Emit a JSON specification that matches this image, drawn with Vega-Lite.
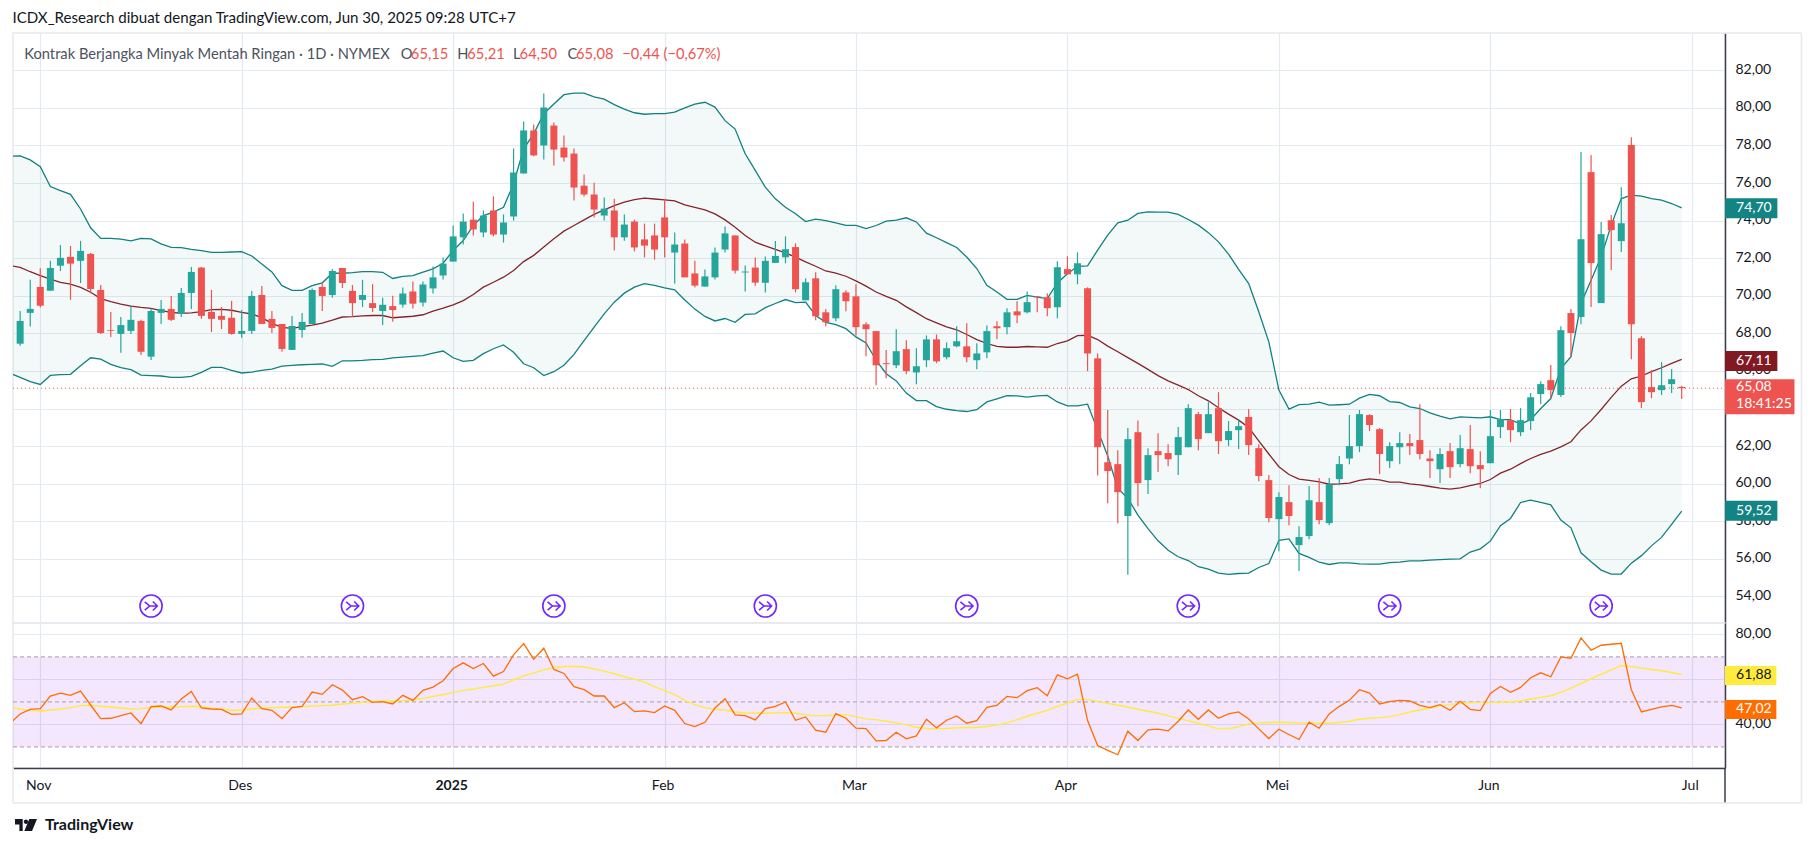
{
"$schema":"https://vega.github.io/schema/vega-lite/v6.json",
"background":"white",
"padding":{"left":11,"top":11,"right":90,"bottom":90},
"spacing":0,
"bounds":"flush",
"title":{"text":"ICDX_Research dibuat dengan TradingView.com, Jun 30, 2025 09:28 UTC+7","anchor":"start","font":"Lato","fontSize":15.1,"fontWeight":"normal","color":"#131722","offset":5,"dx":1},
"config":{"font":"Lato","view":{"stroke":"#e6e9ee","strokeWidth":1.5},"axis":{"labelFont":"Lato","labelFontSize":14,"labelColor":"#131722","gridColor":"#e3eaf0","gridWidth":1.2,"domainColor":"#3a3e48","domainWidth":1.5,"ticks":false}},
"datasets":{
"bars":[
{"bar":-3,"upper":77.43,"basis":71.6,"lower":65.87,"rsi":40.47,"rsima":47.99},
{"bar":-2,"open":67.45,"high":69.19,"low":67.34,"close":68.66,"upper":77.44,"basis":71.51,"lower":65.66,"rsi":44.6,"rsima":46.67},
{"bar":-1,"open":69.09,"high":70.85,"low":68.36,"close":69.3,"upper":77.23,"basis":71.28,"lower":65.43,"rsi":46.67,"rsima":46.08},
{"bar":0,"open":70.47,"high":71.46,"low":69.37,"close":69.47,"upper":76.87,"basis":71.07,"lower":65.28,"rsi":46.96,"rsima":45.93},
{"bar":1,"open":70.27,"high":71.86,"low":70.27,"close":71.48,"upper":75.81,"basis":70.89,"lower":65.76,"rsi":52.57,"rsima":46.37},
{"bar":2,"open":71.6,"high":72.7,"low":71.32,"close":72.02,"upper":75.6,"basis":70.71,"lower":65.8,"rsi":53.89,"rsima":46.81},
{"bar":3,"open":72.07,"high":72.65,"low":69.78,"close":71.71,"upper":75.4,"basis":70.62,"lower":65.82,"rsi":52.86,"rsima":47.4},
{"bar":4,"open":71.86,"high":72.92,"low":70.68,"close":72.39,"upper":74.62,"basis":70.45,"lower":66.28,"rsi":54.78,"rsima":48.29},
{"bar":5,"open":72.23,"high":72.28,"low":70.13,"close":70.36,"upper":73.62,"basis":70.19,"lower":66.7,"rsi":48.58,"rsima":48.44},
{"bar":6,"open":70.31,"high":70.57,"low":67.97,"close":68.02,"upper":73.05,"basis":69.85,"lower":66.63,"rsi":42.54,"rsima":47.99},
{"bar":7,"open":68.17,"high":69.14,"low":67.81,"close":68.13,"upper":73.05,"basis":69.69,"lower":66.35,"rsi":42.68,"rsima":47.7},
{"bar":8,"open":67.97,"high":68.87,"low":66.97,"close":68.44,"upper":73.01,"basis":69.56,"lower":66.17,"rsi":43.86,"rsima":47.26},
{"bar":9,"open":68.13,"high":69.4,"low":67.97,"close":68.72,"upper":72.92,"basis":69.45,"lower":66.07,"rsi":45.05,"rsima":46.81},
{"bar":10,"open":68.66,"high":68.72,"low":66.85,"close":67.02,"upper":73.05,"basis":69.38,"lower":65.78,"rsi":40.33,"rsima":46.96},
{"bar":11,"open":66.76,"high":69.33,"low":66.58,"close":69.19,"upper":73.03,"basis":69.33,"lower":65.75,"rsi":47.85,"rsima":47.4},
{"bar":12,"open":69.09,"high":69.78,"low":68.5,"close":69.3,"upper":72.76,"basis":69.21,"lower":65.73,"rsi":48.14,"rsima":47.7},
{"bar":13,"open":69.3,"high":69.99,"low":68.66,"close":68.72,"upper":72.58,"basis":69.12,"lower":65.66,"rsi":46.37,"rsima":47.7},
{"bar":14,"open":69.03,"high":70.41,"low":68.87,"close":70.15,"upper":72.56,"basis":69.07,"lower":65.66,"rsi":51.24,"rsima":47.85},
{"bar":15,"open":70.15,"high":71.53,"low":69.3,"close":71.27,"upper":72.47,"basis":69.09,"lower":65.71,"rsi":54.63,"rsima":47.99},
{"bar":16,"open":71.5,"high":71.53,"low":68.77,"close":68.93,"upper":72.4,"basis":69.16,"lower":65.92,"rsi":47.26,"rsima":47.85},
{"bar":17,"open":69.14,"high":70.31,"low":68.07,"close":68.77,"upper":72.31,"basis":69.26,"lower":66.19,"rsi":46.81,"rsima":47.11},
{"bar":18,"open":68.93,"high":69.4,"low":68.23,"close":68.72,"upper":72.31,"basis":69.28,"lower":66.19,"rsi":46.67,"rsima":46.67},
{"bar":19,"open":68.83,"high":69.73,"low":67.92,"close":67.97,"upper":72.33,"basis":69.23,"lower":66.03,"rsi":44.45,"rsima":46.22},
{"bar":20,"open":67.97,"high":69.24,"low":67.77,"close":68.13,"upper":72.35,"basis":69.12,"lower":65.89,"rsi":44.6,"rsima":46.22},
{"bar":21,"open":68.13,"high":70.26,"low":67.97,"close":69.99,"upper":72.12,"basis":69.03,"lower":65.94,"rsi":51.68,"rsima":46.81},
{"bar":22,"open":70.04,"high":70.52,"low":68.5,"close":68.5,"upper":71.69,"basis":68.84,"lower":66.03,"rsi":46.96,"rsima":47.26},
{"bar":23,"open":68.77,"high":69.19,"low":68.02,"close":68.29,"upper":71.27,"basis":68.53,"lower":66.1,"rsi":46.22,"rsima":47.4},
{"bar":24,"open":68.5,"high":68.5,"low":67.02,"close":67.17,"upper":70.54,"basis":68.32,"lower":66.26,"rsi":42.54,"rsima":47.55},
{"bar":25,"open":67.12,"high":68.93,"low":67.12,"close":68.39,"upper":70.29,"basis":68.27,"lower":66.3,"rsi":47.4,"rsima":47.55},
{"bar":26,"open":68.18,"high":69.08,"low":67.77,"close":68.61,"upper":70.29,"basis":68.36,"lower":66.33,"rsi":47.99,"rsima":47.85},
{"bar":27,"open":68.5,"high":70.39,"low":68.5,"close":70.31,"upper":70.54,"basis":68.44,"lower":66.35,"rsi":54.34,"rsima":48.14},
{"bar":28,"open":70.47,"high":70.68,"low":69.19,"close":69.99,"upper":70.69,"basis":68.55,"lower":66.37,"rsi":53.3,"rsima":48.29},
{"bar":29,"open":70.04,"high":71.43,"low":69.89,"close":71.32,"upper":71.2,"basis":68.7,"lower":66.24,"rsi":57.58,"rsima":48.44},
{"bar":30,"open":71.48,"high":71.48,"low":70.41,"close":70.68,"upper":71.2,"basis":68.87,"lower":66.54,"rsi":55.22,"rsima":49.03},
{"bar":31,"open":70.26,"high":70.57,"low":68.88,"close":69.61,"upper":71.23,"basis":68.89,"lower":66.54,"rsi":50.94,"rsima":49.32},
{"bar":32,"open":69.78,"high":70.85,"low":69.4,"close":70.04,"upper":71.29,"basis":68.93,"lower":66.56,"rsi":52.27,"rsima":49.76},
{"bar":33,"open":69.61,"high":70.62,"low":69.14,"close":69.35,"upper":71.29,"basis":68.95,"lower":66.6,"rsi":49.76,"rsima":50.21},
{"bar":34,"open":69.19,"high":69.89,"low":68.44,"close":69.52,"upper":71.25,"basis":68.95,"lower":66.62,"rsi":50.06,"rsima":50.35},
{"bar":35,"open":69.45,"high":70.0,"low":68.62,"close":69.24,"upper":70.92,"basis":68.83,"lower":66.7,"rsi":49.03,"rsima":50.35},
{"bar":36,"open":69.53,"high":70.44,"low":69.37,"close":70.12,"upper":71.03,"basis":68.87,"lower":66.74,"rsi":52.86,"rsima":50.5},
{"bar":37,"open":70.23,"high":70.76,"low":69.32,"close":69.58,"upper":71.07,"basis":68.91,"lower":66.77,"rsi":50.65,"rsima":50.8},
{"bar":38,"open":69.64,"high":70.76,"low":69.43,"close":70.6,"upper":71.26,"basis":68.99,"lower":66.81,"rsi":55.07,"rsima":51.53},
{"bar":39,"open":70.39,"high":71.56,"low":70.12,"close":70.98,"upper":71.43,"basis":69.18,"lower":66.95,"rsi":56.55,"rsima":52.42},
{"bar":40,"open":71.08,"high":72.04,"low":70.87,"close":71.71,"upper":71.73,"basis":69.34,"lower":67.06,"rsi":59.35,"rsima":53.16},
{"bar":41,"open":71.82,"high":73.74,"low":71.82,"close":73.16,"upper":72.41,"basis":69.52,"lower":66.7,"rsi":64.81,"rsima":54.19},
{"bar":42,"open":73.11,"high":74.38,"low":72.73,"close":73.95,"upper":72.94,"basis":69.74,"lower":66.51,"rsi":67.32,"rsima":55.07},
{"bar":43,"open":74.05,"high":75.01,"low":73.21,"close":73.53,"upper":73.74,"basis":70.07,"lower":66.56,"rsi":64.81,"rsima":55.66},
{"bar":44,"open":73.37,"high":74.54,"low":73.11,"close":74.27,"upper":74.27,"basis":70.46,"lower":66.92,"rsi":67.02,"rsima":56.4},
{"bar":45,"open":74.54,"high":75.29,"low":73.16,"close":73.26,"upper":74.45,"basis":70.72,"lower":67.18,"rsi":61.42,"rsima":57.14},
{"bar":46,"open":73.26,"high":74.33,"low":72.83,"close":73.9,"upper":74.71,"basis":70.99,"lower":67.38,"rsi":63.48,"rsima":57.88},
{"bar":47,"open":74.22,"high":77.84,"low":74.0,"close":76.56,"upper":75.96,"basis":71.34,"lower":66.99,"rsi":70.86,"rsima":59.79},
{"bar":48,"open":76.51,"high":79.27,"low":76.51,"close":78.8,"upper":77.82,"basis":71.82,"lower":66.38,"rsi":75.87,"rsima":61.56},
{"bar":49,"open":78.8,"high":79.11,"low":77.42,"close":77.47,"upper":78.62,"basis":72.15,"lower":66.17,"rsi":68.94,"rsima":62.89},
{"bar":50,"open":78.0,"high":80.77,"low":77.25,"close":80.02,"upper":79.69,"basis":72.59,"lower":65.75,"rsi":73.81,"rsima":64.22},
{"bar":51,"open":79.06,"high":79.22,"low":76.93,"close":77.78,"upper":80.21,"basis":73.04,"lower":65.96,"rsi":64.37,"rsima":65.25},
{"bar":52,"open":77.89,"high":78.53,"low":77.14,"close":77.36,"upper":80.7,"basis":73.44,"lower":66.3,"rsi":62.6,"rsima":65.69},
{"bar":53,"open":77.57,"high":77.84,"low":75.07,"close":75.76,"upper":80.78,"basis":73.74,"lower":66.88,"rsi":56.7,"rsima":65.69},
{"bar":54,"open":75.86,"high":76.46,"low":75.29,"close":75.39,"upper":80.78,"basis":74.04,"lower":67.61,"rsi":55.37,"rsima":65.55},
{"bar":55,"open":75.39,"high":76.02,"low":74.17,"close":74.59,"upper":80.59,"basis":74.33,"lower":68.33,"rsi":52.57,"rsima":64.66},
{"bar":56,"open":74.27,"high":75.23,"low":74.0,"close":74.64,"upper":80.46,"basis":74.57,"lower":69.04,"rsi":52.57,"rsima":63.63},
{"bar":57,"open":74.54,"high":75.17,"low":72.41,"close":73.11,"upper":80.17,"basis":74.8,"lower":69.66,"rsi":47.4,"rsima":62.45},
{"bar":58,"open":73.11,"high":74.33,"low":72.93,"close":73.79,"upper":79.93,"basis":74.98,"lower":70.14,"rsi":49.62,"rsima":61.12},
{"bar":59,"open":73.95,"high":74.05,"low":72.36,"close":72.57,"upper":79.74,"basis":75.12,"lower":70.46,"rsi":45.63,"rsima":60.09},
{"bar":60,"open":73.0,"high":73.84,"low":72.04,"close":72.67,"upper":79.66,"basis":75.2,"lower":70.65,"rsi":45.93,"rsima":58.76},
{"bar":61,"open":73.21,"high":73.84,"low":71.92,"close":72.46,"upper":79.69,"basis":75.15,"lower":70.55,"rsi":45.19,"rsima":56.7},
{"bar":62,"open":74.17,"high":75.17,"low":72.04,"close":73.11,"upper":79.69,"basis":75.1,"lower":70.42,"rsi":48.14,"rsima":54.93},
{"bar":63,"open":72.3,"high":73.37,"low":70.65,"close":72.73,"upper":79.77,"basis":75.05,"lower":70.32,"rsi":46.22,"rsima":53.16},
{"bar":64,"open":72.78,"high":73.0,"low":70.98,"close":70.98,"upper":80.0,"basis":74.84,"lower":69.78,"rsi":40.33,"rsima":50.65},
{"bar":65,"open":71.19,"high":71.87,"low":70.44,"close":70.54,"upper":80.2,"basis":74.7,"lower":69.29,"rsi":39.0,"rsima":48.73},
{"bar":66,"open":70.49,"high":71.4,"low":70.49,"close":71.03,"upper":80.3,"basis":74.57,"lower":68.9,"rsi":40.91,"rsima":47.4},
{"bar":67,"open":70.98,"high":72.57,"low":70.87,"close":72.3,"upper":80.04,"basis":74.36,"lower":68.66,"rsi":47.26,"rsima":46.67},
{"bar":68,"open":72.46,"high":73.69,"low":72.3,"close":73.32,"upper":79.32,"basis":74.04,"lower":68.79,"rsi":51.39,"rsima":46.22},
{"bar":69,"open":73.21,"high":73.21,"low":71.19,"close":71.34,"upper":78.87,"basis":73.65,"lower":68.59,"rsi":44.16,"rsima":45.49},
{"bar":70,"open":71.24,"high":71.61,"low":70.23,"close":71.29,"upper":77.56,"basis":73.21,"lower":69.01,"rsi":43.86,"rsima":45.05},
{"bar":71,"open":71.5,"high":72.04,"low":70.54,"close":70.7,"upper":76.67,"basis":72.85,"lower":69.04,"rsi":41.95,"rsima":44.9},
{"bar":72,"open":70.69,"high":72.09,"low":70.17,"close":71.86,"upper":75.78,"basis":72.65,"lower":69.37,"rsi":46.96,"rsima":44.9},
{"bar":73,"open":71.75,"high":72.92,"low":71.75,"close":72.12,"upper":75.16,"basis":72.47,"lower":69.59,"rsi":47.99,"rsima":45.05},
{"bar":74,"open":72.05,"high":73.16,"low":71.73,"close":72.48,"upper":74.71,"basis":72.28,"lower":69.8,"rsi":49.91,"rsima":45.19},
{"bar":75,"open":72.59,"high":72.79,"low":70.18,"close":70.35,"upper":74.37,"basis":72.06,"lower":69.64,"rsi":41.8,"rsima":44.9},
{"bar":76,"open":69.76,"high":70.93,"low":69.76,"close":70.72,"upper":73.95,"basis":71.8,"lower":69.66,"rsi":43.27,"rsima":44.31},
{"bar":77,"open":70.93,"high":71.25,"low":68.7,"close":68.91,"upper":74.08,"basis":71.57,"lower":68.95,"rsi":37.38,"rsima":43.86},
{"bar":78,"open":69.12,"high":69.29,"low":68.38,"close":68.59,"upper":74.0,"basis":71.32,"lower":68.59,"rsi":36.49,"rsima":43.86},
{"bar":79,"open":68.8,"high":70.56,"low":68.64,"close":70.35,"upper":73.88,"basis":71.21,"lower":68.47,"rsi":44.75,"rsima":44.31},
{"bar":80,"open":70.18,"high":70.3,"low":69.17,"close":69.71,"upper":73.75,"basis":71.04,"lower":68.25,"rsi":42.68,"rsima":44.31},
{"bar":81,"open":69.97,"high":70.61,"low":67.89,"close":68.33,"upper":73.75,"basis":70.79,"lower":67.81,"rsi":38.26,"rsima":43.42},
{"bar":82,"open":68.48,"high":68.59,"low":66.78,"close":68.22,"upper":73.58,"basis":70.51,"lower":67.49,"rsi":38.11,"rsima":42.39},
{"bar":83,"open":68.12,"high":68.12,"low":65.24,"close":66.3,"upper":73.74,"basis":70.2,"lower":66.57,"rsi":32.66,"rsima":42.09},
{"bar":84,"open":66.41,"high":67.11,"low":65.61,"close":66.36,"upper":73.97,"basis":69.97,"lower":65.85,"rsi":32.8,"rsima":41.36},
{"bar":85,"open":66.3,"high":68.22,"low":66.15,"close":67.05,"upper":74.03,"basis":69.76,"lower":65.47,"rsi":36.49,"rsima":40.62},
{"bar":86,"open":67.16,"high":67.63,"low":65.82,"close":65.99,"upper":74.15,"basis":69.41,"lower":64.82,"rsi":33.54,"rsima":39.73},
{"bar":87,"open":65.92,"high":67.21,"low":65.29,"close":66.25,"upper":73.93,"basis":69.1,"lower":64.42,"rsi":34.87,"rsima":38.7},
{"bar":88,"open":66.57,"high":67.89,"low":66.2,"close":67.68,"upper":73.33,"basis":68.78,"lower":64.42,"rsi":42.24,"rsima":38.11},
{"bar":89,"open":67.68,"high":67.94,"low":66.41,"close":66.51,"upper":73.09,"basis":68.56,"lower":64.1,"rsi":38.41,"rsima":37.96},
{"bar":90,"open":66.73,"high":67.52,"low":66.62,"close":67.21,"upper":72.83,"basis":68.35,"lower":63.96,"rsi":41.8,"rsima":38.11},
{"bar":91,"open":67.31,"high":68.38,"low":67.26,"close":67.58,"upper":72.57,"basis":68.19,"lower":63.89,"rsi":43.72,"rsima":38.41},
{"bar":92,"open":67.31,"high":68.54,"low":66.46,"close":66.73,"upper":72.06,"basis":67.94,"lower":63.84,"rsi":40.47,"rsima":38.56},
{"bar":93,"open":66.57,"high":67.47,"low":66.09,"close":66.93,"upper":71.45,"basis":67.67,"lower":63.94,"rsi":41.65,"rsima":38.56},
{"bar":94,"open":66.99,"high":68.42,"low":66.67,"close":68.12,"upper":70.56,"basis":67.46,"lower":64.35,"rsi":47.55,"rsima":39.0},
{"bar":95,"open":68.38,"high":68.64,"low":67.68,"close":68.27,"upper":70.2,"basis":67.31,"lower":64.51,"rsi":48.44,"rsima":39.73},
{"bar":96,"open":68.33,"high":69.34,"low":67.95,"close":69.12,"upper":69.81,"basis":67.26,"lower":64.68,"rsi":52.42,"rsima":40.62},
{"bar":97,"open":69.17,"high":69.71,"low":68.54,"close":68.96,"upper":69.81,"basis":67.26,"lower":64.67,"rsi":51.83,"rsima":42.09},
{"bar":98,"open":69.12,"high":70.23,"low":69.06,"close":69.66,"upper":70.02,"basis":67.3,"lower":64.61,"rsi":54.93,"rsima":43.57},
{"bar":99,"open":69.97,"high":69.97,"low":69.12,"close":69.92,"upper":69.93,"basis":67.28,"lower":64.67,"rsi":56.25,"rsima":44.9},
{"bar":100,"open":69.92,"high":70.13,"low":68.91,"close":69.34,"upper":69.85,"basis":67.26,"lower":64.7,"rsi":52.71,"rsima":46.22},
{"bar":101,"open":69.39,"high":71.84,"low":68.8,"close":71.52,"upper":70.68,"basis":67.46,"lower":64.35,"rsi":62.0,"rsima":47.99},
{"bar":102,"open":71.42,"high":72.1,"low":71.14,"close":71.14,"upper":71.17,"basis":67.6,"lower":64.14,"rsi":60.24,"rsima":49.47},
{"bar":103,"open":71.14,"high":72.31,"low":70.61,"close":71.73,"upper":71.57,"basis":67.88,"lower":64.14,"rsi":62.3,"rsima":51.09},
{"bar":104,"open":70.4,"high":70.45,"low":65.99,"close":66.93,"upper":71.59,"basis":67.9,"lower":64.23,"rsi":41.65,"rsima":51.09},
{"bar":105,"open":66.67,"high":66.93,"low":60.44,"close":61.94,"upper":72.43,"basis":67.67,"lower":62.85,"rsi":30.59,"rsima":50.21},
{"bar":106,"open":61.14,"high":63.92,"low":58.96,"close":60.67,"upper":73.23,"basis":67.32,"lower":61.47,"rsi":28.38,"rsima":49.32},
{"bar":107,"open":61.04,"high":61.78,"low":57.9,"close":59.55,"upper":73.88,"basis":67.02,"lower":59.75,"rsi":26.46,"rsima":48.44},
{"bar":108,"open":58.28,"high":62.96,"low":55.15,"close":62.37,"upper":74.02,"basis":66.71,"lower":59.22,"rsi":36.93,"rsima":47.7},
{"bar":109,"open":62.74,"high":63.36,"low":58.8,"close":60.03,"upper":74.38,"basis":66.4,"lower":58.33,"rsi":32.8,"rsima":46.67},
{"bar":110,"open":60.19,"high":61.89,"low":59.45,"close":61.52,"upper":74.47,"basis":66.08,"lower":57.61,"rsi":37.52,"rsima":45.78},
{"bar":111,"open":61.73,"high":62.69,"low":60.62,"close":61.52,"upper":74.45,"basis":65.75,"lower":56.96,"rsi":37.82,"rsima":44.9},
{"bar":112,"open":61.63,"high":62.1,"low":60.93,"close":61.3,"upper":74.45,"basis":65.47,"lower":56.46,"rsi":37.08,"rsima":43.86},
{"bar":113,"open":61.52,"high":63.01,"low":60.46,"close":62.48,"upper":74.33,"basis":65.24,"lower":56.11,"rsi":41.36,"rsima":42.54},
{"bar":114,"open":61.94,"high":64.23,"low":61.94,"close":64.02,"upper":74.06,"basis":65.01,"lower":55.91,"rsi":46.37,"rsima":41.65},
{"bar":115,"open":63.7,"high":63.81,"low":61.78,"close":62.37,"upper":73.76,"basis":64.68,"lower":55.58,"rsi":42.24,"rsima":40.47},
{"bar":116,"open":62.69,"high":64.34,"low":62.69,"close":63.7,"upper":73.36,"basis":64.41,"lower":55.45,"rsi":46.37,"rsima":39.29},
{"bar":117,"open":64.02,"high":64.87,"low":61.58,"close":62.26,"upper":72.87,"basis":64.04,"lower":55.24,"rsi":42.68,"rsima":37.96},
{"bar":118,"open":62.32,"high":63.33,"low":62.0,"close":62.8,"upper":72.22,"basis":63.7,"lower":55.17,"rsi":44.6,"rsima":37.96},
{"bar":119,"open":62.85,"high":63.43,"low":61.84,"close":63.06,"upper":71.4,"basis":63.38,"lower":55.22,"rsi":45.49,"rsima":39.0},
{"bar":120,"open":63.55,"high":63.97,"low":61.52,"close":62.05,"upper":70.65,"basis":62.99,"lower":55.24,"rsi":42.39,"rsima":40.18},
{"bar":121,"open":61.89,"high":62.1,"low":60.13,"close":60.41,"upper":69.15,"basis":62.28,"lower":55.54,"rsi":37.97,"rsima":40.62},
{"bar":122,"open":60.19,"high":60.46,"low":57.95,"close":58.17,"upper":67.55,"basis":61.58,"lower":55.75,"rsi":33.69,"rsima":40.77},
{"bar":123,"open":58.11,"high":59.55,"low":56.41,"close":59.29,"upper":64.98,"basis":60.9,"lower":56.99,"rsi":37.82,"rsima":40.91},
{"bar":124,"open":59.02,"high":59.92,"low":57.79,"close":58.28,"upper":63.97,"basis":60.49,"lower":57.06,"rsi":35.46,"rsima":40.77},
{"bar":125,"open":56.73,"high":57.74,"low":55.35,"close":57.16,"upper":64.21,"basis":60.24,"lower":56.29,"rsi":33.25,"rsima":40.62},
{"bar":126,"open":57.21,"high":59.87,"low":57.04,"close":59.12,"upper":64.23,"basis":60.17,"lower":56.08,"rsi":40.91,"rsima":40.62},
{"bar":127,"open":59.02,"high":60.3,"low":57.84,"close":58.06,"upper":64.34,"basis":60.1,"lower":55.82,"rsi":38.26,"rsima":40.47},
{"bar":128,"open":57.9,"high":60.3,"low":57.79,"close":59.97,"upper":64.18,"basis":59.97,"lower":55.7,"rsi":44.6,"rsima":40.47},
{"bar":129,"open":60.24,"high":61.47,"low":59.92,"close":61.04,"upper":64.2,"basis":59.99,"lower":55.79,"rsi":47.99,"rsima":40.77},
{"bar":130,"open":61.34,"high":63.65,"low":61.04,"close":62.0,"upper":64.23,"basis":60.03,"lower":55.79,"rsi":50.65,"rsima":41.36},
{"bar":131,"open":62.0,"high":63.92,"low":61.68,"close":63.7,"upper":64.55,"basis":60.17,"lower":55.73,"rsi":55.37,"rsima":42.24},
{"bar":132,"open":63.65,"high":63.7,"low":62.8,"close":63.12,"upper":64.75,"basis":60.25,"lower":55.72,"rsi":53.89,"rsima":42.68},
{"bar":133,"open":62.9,"high":62.96,"low":60.51,"close":61.58,"upper":64.68,"basis":60.2,"lower":55.72,"rsi":49.03,"rsima":42.98},
{"bar":134,"open":61.2,"high":62.21,"low":60.83,"close":62.0,"upper":64.37,"basis":60.08,"lower":55.8,"rsi":50.06,"rsima":43.42},
{"bar":135,"open":61.94,"high":62.74,"low":61.04,"close":62.16,"upper":64.32,"basis":60.08,"lower":55.82,"rsi":50.65,"rsima":44.31},
{"bar":136,"open":62.16,"high":62.64,"low":61.52,"close":62.0,"upper":64.09,"basis":59.99,"lower":55.89,"rsi":50.35,"rsima":45.49},
{"bar":137,"open":62.32,"high":64.23,"low":61.3,"close":61.58,"upper":64.0,"basis":59.94,"lower":55.89,"rsi":48.44,"rsima":46.37},
{"bar":138,"open":61.34,"high":61.78,"low":60.3,"close":61.2,"upper":63.77,"basis":59.85,"lower":55.93,"rsi":47.4,"rsima":47.26},
{"bar":139,"open":60.77,"high":61.89,"low":60.03,"close":61.58,"upper":63.6,"basis":59.76,"lower":55.96,"rsi":48.73,"rsima":48.29},
{"bar":140,"open":61.73,"high":62.16,"low":60.3,"close":60.88,"upper":63.45,"basis":59.71,"lower":55.98,"rsi":46.22,"rsima":48.73},
{"bar":141,"open":61.04,"high":62.59,"low":60.88,"close":61.89,"upper":63.56,"basis":59.78,"lower":56.0,"rsi":50.21,"rsima":49.32},
{"bar":142,"open":61.84,"high":63.12,"low":60.56,"close":60.93,"upper":63.53,"basis":59.9,"lower":56.36,"rsi":46.67,"rsima":49.62},
{"bar":143,"open":60.99,"high":61.73,"low":59.76,"close":60.77,"upper":63.5,"basis":60.01,"lower":56.53,"rsi":46.08,"rsima":49.76},
{"bar":144,"open":61.09,"high":63.92,"low":61.09,"close":62.53,"upper":63.56,"basis":60.22,"lower":56.94,"rsi":53.75,"rsima":49.76},
{"bar":145,"open":63.01,"high":63.92,"low":62.43,"close":63.43,"upper":63.41,"basis":60.56,"lower":57.76,"rsi":56.84,"rsima":49.91},
{"bar":146,"open":63.38,"high":63.97,"low":62.21,"close":62.85,"upper":63.41,"basis":60.77,"lower":58.15,"rsi":54.19,"rsima":49.91},
{"bar":147,"open":62.74,"high":64.02,"low":62.53,"close":63.38,"upper":63.17,"basis":61.07,"lower":59.0,"rsi":56.4,"rsima":50.35},
{"bar":148,"open":63.33,"high":64.82,"low":62.85,"close":64.6,"upper":63.41,"basis":61.34,"lower":59.12,"rsi":60.68,"rsima":51.24},
{"bar":149,"open":64.77,"high":65.45,"low":64.23,"close":65.3,"upper":64.0,"basis":61.56,"lower":59.0,"rsi":62.89,"rsima":51.98},
{"bar":150,"open":65.51,"high":66.31,"low":64.55,"close":64.98,"upper":64.53,"basis":61.73,"lower":58.87,"rsi":61.12,"rsima":52.71},
{"bar":151,"open":64.72,"high":68.38,"low":64.61,"close":68.17,"upper":66.13,"basis":61.96,"lower":58.06,"rsi":69.97,"rsima":54.19},
{"bar":152,"open":69.08,"high":69.29,"low":66.74,"close":68.02,"upper":66.76,"basis":62.23,"lower":57.65,"rsi":69.38,"rsima":56.11},
{"bar":153,"open":68.87,"high":77.65,"low":68.49,"close":73.01,"upper":69.59,"basis":62.86,"lower":56.32,"rsi":78.38,"rsima":58.17},
{"bar":154,"open":76.58,"high":77.49,"low":69.4,"close":71.74,"upper":70.83,"basis":63.34,"lower":55.84,"rsi":72.92,"rsima":60.24},
{"bar":155,"open":69.61,"high":73.92,"low":69.61,"close":73.28,"upper":72.07,"basis":63.95,"lower":55.4,"rsi":75.13,"rsima":62.15},
{"bar":156,"open":74.02,"high":74.3,"low":71.37,"close":73.49,"upper":73.76,"basis":64.59,"lower":55.19,"rsi":75.58,"rsima":64.22},
{"bar":157,"open":72.91,"high":75.78,"low":72.33,"close":73.86,"upper":75.17,"basis":65.19,"lower":55.19,"rsi":76.02,"rsima":66.13},
{"bar":158,"open":78.02,"high":78.44,"low":66.62,"close":68.49,"upper":75.36,"basis":65.58,"lower":55.77,"rsi":55.37,"rsima":65.55},
{"bar":159,"open":67.74,"high":67.85,"low":64.02,"close":64.34,"upper":75.3,"basis":65.73,"lower":56.17,"rsi":45.49,"rsima":64.96},
{"bar":160,"open":65.14,"high":66.04,"low":64.55,"close":64.87,"upper":75.17,"basis":65.96,"lower":56.69,"rsi":46.67,"rsima":64.37},
{"bar":161,"open":64.98,"high":66.47,"low":64.72,"close":65.24,"upper":75.09,"basis":66.17,"lower":57.14,"rsi":47.7,"rsima":63.78},
{"bar":162,"open":65.3,"high":66.1,"low":64.82,"close":65.56,"upper":74.91,"basis":66.4,"lower":57.83,"rsi":48.44,"rsima":63.04},
{"bar":163,"open":65.15,"high":65.21,"low":64.5,"close":65.08,"upper":74.68,"basis":66.61,"lower":58.54,"rsi":47.26,"rsima":62.15}
],
"events":[{"bar":11,"lane":53.49},{"bar":31,"lane":53.49},{"bar":51,"lane":53.49},{"bar":72,"lane":53.49},{"bar":92,"lane":53.49},{"bar":114,"lane":53.49},{"bar":134,"lane":53.49},{"bar":155,"lane":53.49}]
},
"vconcat":[
{"width":1712,"height":590,
"encoding":{"x":{"field":"bar","type":"quantitative","scale":{"domain":[-2.71,167.3],"nice":false,"zero":false},"axis":{"values":[0,20,41,62,81,102,123,144,164],"grid":true,"labels":false,"domain":false},"title":null}},
"layer":[
{"data":{"name":"bars"},"mark":{"type":"area","color":"#138484","opacity":0.05,"clip":true},
 "encoding":{"y":{"field":"upper","type":"quantitative","title":null,"scale":{"domain":[52.585,83.985],"nice":false,"zero":false},
   "axis":{"orient":"right","values":[54,56,58,60,62,64,66,68,70,72,74,76,78,80,82],"grid":true,"labelPadding":10,"labelOffset":-1,"labelExpr":"replace(format(datum.value,'.2f'),'.',',')"}},"y2":{"field":"lower"}}},
{"data":{"name":"bars"},"mark":{"type":"line","color":"#128080","strokeWidth":1.3,"clip":true},"encoding":{"y":{"field":"upper","type":"quantitative","title":null}}},
{"data":{"name":"bars"},"mark":{"type":"line","color":"#128080","strokeWidth":1.3,"clip":true},"encoding":{"y":{"field":"lower","type":"quantitative","title":null}}},
{"data":{"name":"bars"},"mark":{"type":"line","color":"#85242c","strokeWidth":1.3,"clip":true},"encoding":{"y":{"field":"basis","type":"quantitative","title":null}}},
{"data":{"values":[{"from":-2.71,"to":167.3,"price":65.08}]},"mark":{"type":"rule","color":"#ef5350","strokeWidth":1,"strokeDash":[1,3]},"encoding":{"x":{"field":"from","type":"quantitative"},"x2":{"field":"to"},"y":{"field":"price","type":"quantitative","title":null}}},
{"data":{"name":"bars"},"mark":{"type":"rule","strokeWidth":1.2},"encoding":{"y":{"field":"high","type":"quantitative","title":null},"y2":{"field":"low"},"color":{"condition":{"test":"datum.close>=datum.open","value":"#26a69a"},"value":"#ef5350"}}},
{"data":{"name":"bars"},"mark":{"type":"rule","strokeWidth":7},"encoding":{"y":{"field":"open","type":"quantitative","title":null},"y2":{"field":"close"},"color":{"condition":{"test":"datum.close>=datum.open","value":"#26a69a"},"value":"#ef5350"}}},
{"data":{"name":"events"},"mark":{"type":"point","shape":"circle","filled":true,"fill":"white","stroke":"#7028ff","strokeWidth":1.6,"opacity":1,"size":490},"encoding":{"y":{"field":"lane","type":"quantitative","title":null}}},
{"data":{"name":"events"},"mark":{"type":"point","shape":"M-0.9,-0.6L-0.2,0L-0.9,0.6M-0.2,0L0.9,0M0.25,-0.65L0.9,0L0.25,0.65","filled":false,"stroke":"#7028ff","strokeWidth":1.6,"opacity":1,"size":196},"encoding":{"y":{"field":"lane","type":"quantitative","title":null}}},
{"data":{"values":[{"bar":-1.59,"at":82.8,"label":"Kontrak Berjangka Minyak Mentah Ringan · 1D · NYMEX"},{"bar":35.8,"at":82.8,"label":"O"},{"bar":41.4,"at":82.8,"label":"H"},{"bar":46.95,"at":82.8,"label":"L"},{"bar":52.35,"at":82.8,"label":"C"}]},"mark":{"type":"text","align":"left","baseline":"middle","fontSize":14.7,"color":"#4c525e"},"encoding":{"y":{"field":"at","type":"quantitative","title":null},"text":{"field":"label"}}},
{"data":{"values":[{"bar":36.8,"at":82.8,"label":"65,15"},{"bar":42.4,"at":82.8,"label":"65,21"},{"bar":47.6,"at":82.8,"label":"64,50"},{"bar":53.2,"at":82.8,"label":"65,08"},{"bar":57.8,"at":82.8,"label":"−0,44 (−0,67%)"}]},"mark":{"type":"text","align":"left","baseline":"middle","fontSize":14.7,"color":"#ef5350"},"encoding":{"y":{"field":"at","type":"quantitative","title":null},"text":{"field":"label"}}},
{"data":{"values":[{"from":167.3,"to":172.5,"at":74.66},{"from":167.3,"to":172.5,"at":58.56}]},"mark":{"type":"rule","color":"#138484","strokeWidth":20},"encoding":{"x":{"field":"from","type":"quantitative"},"x2":{"field":"to"},"y":{"field":"at","type":"quantitative","title":null}}},
{"data":{"values":[{"from":167.3,"to":172.5,"at":66.53}]},"mark":{"type":"rule","color":"#801922","strokeWidth":20},"encoding":{"x":{"field":"from","type":"quantitative"},"x2":{"field":"to"},"y":{"field":"at","type":"quantitative","title":null}}},
{"data":{"values":[{"from":167.3,"to":174.2,"at":64.62}]},"mark":{"type":"rule","color":"#ef5350","strokeWidth":35},"encoding":{"x":{"field":"from","type":"quantitative"},"x2":{"field":"to"},"y":{"field":"at","type":"quantitative","title":null}}},
{"data":{"values":[{"bar":168.4,"at":74.66,"label":"74,70"},{"bar":168.4,"at":66.53,"label":"67,11"},{"bar":168.4,"at":65.17,"label":"65,08"},{"bar":168.4,"at":64.25,"label":"18:41:25"},{"bar":168.4,"at":58.56,"label":"59,52"}]},"mark":{"type":"text","align":"left","baseline":"middle","fontSize":14,"color":"white"},"encoding":{"y":{"field":"at","type":"quantitative","title":null},"text":{"field":"label"}}},
{"data":{"values":[{"from":167.3,"to":174.9,"at":83.985}]},"mark":{"type":"rule","color":"#e6e9ee","strokeWidth":1.5},"encoding":{"x":{"field":"from","type":"quantitative"},"x2":{"field":"to"},"y":{"field":"at","type":"quantitative","title":null}}},
{"data":{"values":[{"at":174.9,"top":83.985,"bottom":52.585}]},"mark":{"type":"rule","color":"#e6e9ee","strokeWidth":1.5},"encoding":{"x":{"field":"at","type":"quantitative"},"y":{"field":"top","type":"quantitative","title":null},"y2":{"field":"bottom"}}}
]},
{"width":1712,"height":145,
"encoding":{"x":{"field":"bar","type":"quantitative","scale":{"domain":[-2.71,167.3],"nice":false,"zero":false},"axis":{"values":[0,20,41,62,81,102,123,144,164],"grid":true,"labelPadding":10,"labelOffset":-2,"labelFlush":false,"labelOverlap":false,"labelFontWeight":{"expr":"datum.value==41?'bold':'normal'"},"labelExpr":"{'0':'Nov','20':'Des','41':'2025','62':'Feb','81':'Mar','102':'Apr','123':'Mei','144':'Jun','164':'Jul'}[datum.value]"},"title":null}},
"layer":[
{"data":{"values":[{"from":-2.71,"to":167.3,"top":70,"bottom":30}]},"mark":{"type":"rect","color":"#9105eb","opacity":0.1},
 "encoding":{"x":{"field":"from","type":"quantitative"},"x2":{"field":"to"},"y":{"field":"top","type":"quantitative","title":null,"scale":{"domain":[20.58,85.02],"nice":false,"zero":false},
   "axis":{"orient":"right","values":[80,60,40],"grid":true,"labelPadding":10,"labelOffset":-1,"labelExpr":"replace(format(datum.value,'.2f'),'.',',')"}},"y2":{"field":"bottom"}}},
{"data":{"values":[{"from":-2.71,"to":167.3,"level":70},{"from":-2.71,"to":167.3,"level":50},{"from":-2.71,"to":167.3,"level":30}]},"mark":{"type":"rule","color":"#b3aeb8","strokeWidth":1.2,"strokeDash":[4,3]},"encoding":{"x":{"field":"from","type":"quantitative"},"x2":{"field":"to"},"y":{"field":"level","type":"quantitative","title":null}}},
{"data":{"name":"bars"},"mark":{"type":"line","color":"#ffeb3b","strokeWidth":1.4,"clip":true},"encoding":{"y":{"field":"rsima","type":"quantitative","title":null}}},
{"data":{"name":"bars"},"mark":{"type":"line","color":"#ff6d00","strokeWidth":1.3,"clip":true},"encoding":{"y":{"field":"rsi","type":"quantitative","title":null}}},
{"data":{"values":[{"from":167.3,"to":172.4,"at":61.69}]},"mark":{"type":"rule","color":"#ffeb3b","strokeWidth":19},"encoding":{"x":{"field":"from","type":"quantitative"},"x2":{"field":"to"},"y":{"field":"at","type":"quantitative","title":null}}},
{"data":{"values":[{"from":167.3,"to":172.4,"at":46.58}]},"mark":{"type":"rule","color":"#ff6d00","strokeWidth":19},"encoding":{"x":{"field":"from","type":"quantitative"},"x2":{"field":"to"},"y":{"field":"at","type":"quantitative","title":null}}},
{"data":{"values":[{"bar":168.4,"at":61.69,"label":"61,88"}]},"mark":{"type":"text","align":"left","baseline":"middle","fontSize":14,"color":"#131722"},"encoding":{"y":{"field":"at","type":"quantitative","title":null},"text":{"field":"label"}}},
{"data":{"values":[{"bar":168.4,"at":46.58,"label":"47,02"}]},"mark":{"type":"text","align":"left","baseline":"middle","fontSize":14,"color":"white"},"encoding":{"y":{"field":"at","type":"quantitative","title":null},"text":{"field":"label"}}},
{"data":{"values":[{"at":167.3,"top":20.58,"bottom":5}]},"mark":{"type":"rule","color":"#3a3e48","strokeWidth":1.5},"encoding":{"x":{"field":"at","type":"quantitative"},"y":{"field":"top","type":"quantitative","title":null},"y2":{"field":"bottom"}}},
{"data":{"values":[{"at":174.9,"top":85.02,"bottom":5},{"at":-2.71,"top":20.58,"bottom":5}]},"mark":{"type":"rule","color":"#e6e9ee","strokeWidth":1.5},"encoding":{"x":{"field":"at","type":"quantitative"},"y":{"field":"top","type":"quantitative","title":null},"y2":{"field":"bottom"}}},
{"data":{"values":[{"from":-2.71,"to":174.9,"at":5}]},"mark":{"type":"rule","color":"#e6e9ee","strokeWidth":1.5},"encoding":{"x":{"field":"from","type":"quantitative"},"x2":{"field":"to"},"y":{"field":"at","type":"quantitative","title":null}}},
{"data":{"values":[{"bar":-1.42,"at":-4.76}]},"mark":{"type":"point","shape":"M-1,-0.55L-0.3,-0.55L-0.3,0.55L-0.6,0.55L-0.6,-0.05L-1,-0.05ZM-0.2,-0.3a0.2,0.2 0 1,0 0.4,0a0.2,0.2 0 1,0 -0.4,0ZM0.3,-0.55L1,-0.55L0.55,0.55L-0.15,0.55Z","filled":true,"color":"#131722","opacity":1,"size":484},"encoding":{"y":{"field":"at","type":"quantitative","title":null}}},
{"data":{"values":[{"bar":0.47,"at":-4.76,"label":"TradingView"}]},"mark":{"type":"text","align":"left","baseline":"middle","fontSize":16,"fontWeight":"bold","color":"#131722"},"encoding":{"y":{"field":"at","type":"quantitative","title":null},"text":{"field":"label"}}}
]}
]
}
